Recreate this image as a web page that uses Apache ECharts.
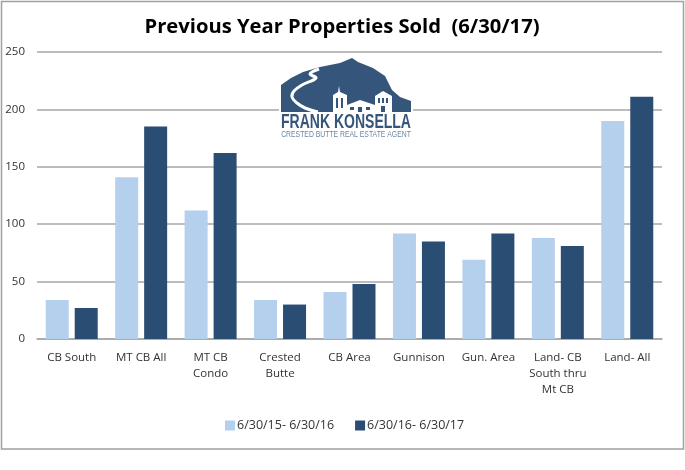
<!DOCTYPE html>
<html><head><meta charset="utf-8">
<style>html,body{margin:0;padding:0;background:#fff}#c{width:685px;height:470px}</style>
<script src="https://cdn.jsdelivr.net/npm/echarts@6/dist/echarts.min.js"></script>
</head><body><div id="c"></div>
<script>
const categories = ['CB South','MT CB All','MT CB\nCondo','Crested\nButte','CB Area','Gunnison','Gun. Area','Land- CB\nSouth thru\nMt CB','Land- All'];
const prevYear = [34,141,112,34,41,92,69,88,190];
const currYear = [27,185,162,30,48,85,92,81,211];
const seriesNames = ['6/30/15- 6/30/16','6/30/16- 6/30/17'];
const titleText = 'Previous Year Properties Sold  (6/30/17)';
const LIGHT='#b4d0ec', DARK='#2a4d74', LOGO='#35567a', FONT='"Open Sans","Noto Sans",sans-serif';
const LOGOFONT='"Liberation Sans"';
const P = pts => ({shape:{points:pts}});
const win = (x,y,w,h) => ({type:'rect',z:103,shape:{x,y,width:w,height:h},style:{fill:LOGO}});
const chart = echarts.init(document.getElementById('c'),null,{renderer:'canvas'});
chart.setOption({
  animation:false,
  backgroundColor:'#fff',
  title:{text:titleText,left:337,top:12,textAlign:'center',textStyle:{fontFamily:FONT,fontSize:20.2,fontWeight:'bold',color:'#000'}},
  grid:{left:37,right:23,top:52,height:287,containLabel:false},
  legend:{bottom:33,left:220,itemWidth:10,itemHeight:10,itemGap:21,icon:'rect',
    textStyle:{fontFamily:FONT,fontSize:12.5,color:'#333',padding:[0,0,0,-3]},data:seriesNames},
  xAxis:{type:'category',data:categories,
    axisLine:{lineStyle:{color:'#a6a6a6',width:1.5}},axisTick:{show:false},
    axisLabel:{interval:0,margin:11,lineHeight:16,fontFamily:FONT,fontSize:11.5,color:'#333'}},
  yAxis:{type:'value',min:0,max:250,interval:50,
    axisLine:{show:false},axisTick:{show:false},
    splitLine:{lineStyle:{color:'#a6a6a6',width:1.5}},
    axisLabel:{margin:12,fontFamily:FONT,fontSize:11.5,color:'#333'}},
  series:[
    {name:seriesNames[0],type:'bar',data:prevYear,barWidth:23,barGap:'26%',itemStyle:{color:LIGHT}},
    {name:seriesNames[1],type:'bar',data:currYear,barWidth:23,itemStyle:{color:DARK}}
  ],
  graphic:[
    {type:'rect',z:100,shape:{x:1.5,y:1.5,width:682,height:447.5},style:{fill:null,stroke:'#a0a0a0',lineWidth:1.5},silent:true},
    {type:'rect',z:100,shape:{x:279,y:56,width:134,height:86},style:{fill:'#fff'}},
    {type:'polygon',z:101,...P([[281,85],[291,78],[303,72],[320,67],[340,63],[352,58],[358,62],[373,68],[385,76],[392,90],[400,97],[411,101],[411,112],[281,112]]),style:{fill:LOGO}},
    {type:'polyline',z:102,shape:{points:[[319,69],[310,74],[316,78],[302,85],[294,91],[292,97],[297,103],[305,108],[318,112]],smooth:0.4},style:{fill:null,stroke:'#fff',lineWidth:3}},
    {type:'polygon',z:102,...P([[333,112],[333,95],[338,92],[339,86],[340,92],[347,95],[347,112]]),style:{fill:'#fff'}},
    {type:'polygon',z:102,...P([[347,112],[347,105],[360,100],[375,105],[375,112]]),style:{fill:'#fff'}},
    {type:'polygon',z:102,...P([[375,112],[375,96],[383,91],[392,96],[392,112]]),style:{fill:'#fff'}},
    win(336,98,2,10),win(341,98,2,10),win(378,98,2,5),win(382,98,2,5),win(386,98,2,5),win(381,106,4,6),win(350,107,4,3),win(358,107,4,5),win(366,107,4,3),
    {type:'text',z:102,x:346,y:122,scaleX:0.7,style:{text:'FRANK KONSELLA',x:0,y:0,align:'center',verticalAlign:'middle',fill:LOGO,fontFamily:LOGOFONT,fontWeight:'bold',fontSize:20}},
    {type:'text',z:102,x:346,y:135,scaleX:0.76,style:{text:'CRESTED BUTTE REAL ESTATE AGENT',x:0,y:0,align:'center',verticalAlign:'middle',fill:'#6c87a3',fontFamily:LOGOFONT,fontSize:9}}
  ]
});
</script></body></html>
